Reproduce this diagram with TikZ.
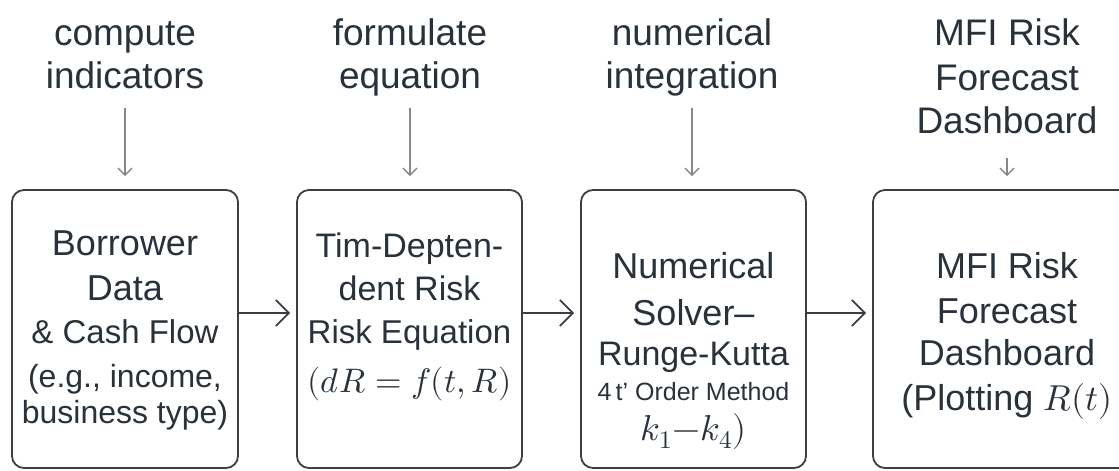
\documentclass[tikz,border=0pt]{standalone}
\usepackage{amsmath}
\usepackage{unicode-math}
\setmainfont{Liberation Sans}
\setmathfont{Latin Modern Math}
\usetikzlibrary{arrows.meta,positioning}
\definecolor{inkgray}{HTML}{29313B}
\definecolor{framegray}{HTML}{3B3F44}
\definecolor{hintgray}{HTML}{85888B}
\newcommand{\fsz}[1]{\fontsize{#1}{44}\selectfont}
\tikzset{
  stage/.style={draw=framegray, line width=1.8pt, rounded corners=12pt,
    minimum height=278pt, inner sep=0pt},
  stagetext/.style={anchor=base, align=center, inner sep=0pt, text=inkgray,
    font=\fsz{36}},
  steplabel/.style={anchor=base, align=center, inner sep=0pt, text=inkgray,
    font=\fsz{37}},
  flow/.style={-{Straight Barb[length=13pt,width=26pt]}, line width=1.8pt,
    draw=framegray, shorten >=6pt},
  hint/.style={-{Straight Barb[length=7pt,width=14pt]}, line width=1.4pt,
    draw=hintgray, shorten >=13pt}
}

\begin{document}
\begin{tikzpicture}[x=1pt, y=-1pt]
  \useasboundingbox (0,0) rectangle (1119,471);
  \clip (0,0) rectangle (1119,471);
  % stages
  \node[stage, minimum width=226pt] (borrower) at (125,329) {};
  \node[stage, minimum width=225pt] (riskeq) at (409.5,329) {};
  \node[stage, minimum width=225pt] (solver) at (693.5,329) {};
  \node[stage, minimum width=268pt] (dashboard) at (1007,329) {};
  % stage texts (anchored on the last line)
  \node[stagetext] (borrowertxt) at (125,423) {Borrower\\[1pt] Data\\[-1pt]
    {\fsz{33}\& Cash Flow}\\ {\fsz{32}(e.g., income,}\\[-8pt]
    {\fsz{32}business type)}};
  \node[stagetext, font=\fsz{34}] (riskeqtxt) at (409.5,392)
    {Tim-Depten-\\[-1pt] dent Risk\\[-1pt] {\fsz{33}Risk Equation}\\[5pt] $(dR = f(t,R)$};
  \node[stagetext] (solvertxt) at (693.5,440) {Numerical\\[3pt] Solver--\\[-4pt]
    {\fsz{34}Runge-Kutta}\\[-9pt] {\fsz{25}4\,t' Order Method}\\[-4pt]
    $k_1{-}k_4)$};
  \node[stagetext] (dashboardtxt) at (1007,410) {MFI Risk\\[1pt] Forecast\\[-2pt]
    Dashboard\\[1pt] (Plotting $R(t)$};
  % step labels
  \node[steplabel] (computelbl) at (125,88) {compute\\[-1pt] indicators};
  \node[steplabel] (formulatelbl) at (410,88) {formulate\\[-1pt] equation};
  \node[steplabel] (integratelbl) at (692,88) {numerical\\[-1pt] integration};
  \node[steplabel] (forecastlbl) at (1007,133) {MFI Risk\\[1pt] Forecast\\[-1pt] Dashboard};
  % connectors
  \draw[hint, shorten <=19pt] (computelbl) -- (computelbl |- borrower.north);
  \draw[hint, shorten <=12pt] (formulatelbl) -- (formulatelbl |- riskeq.north);
  \draw[hint, shorten <=12pt] (integratelbl) -- (integratelbl |- solver.north);
  \draw[hint, shorten <=24pt] (forecastlbl) -- (dashboard);
  \draw[flow] ([yshift=16pt]borrower.east) -- ([yshift=16pt]riskeq.west);
  \draw[flow] ([yshift=16pt]riskeq.east) -- ([yshift=16pt]solver.west);
  \draw[flow] ([yshift=16pt]solver.east) -- ([yshift=16pt]dashboard.west);
\end{tikzpicture}
\end{document}
